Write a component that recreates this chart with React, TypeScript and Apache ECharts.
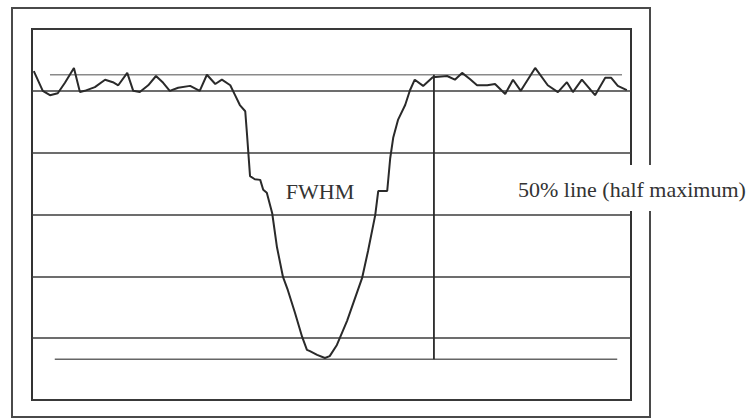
import React, { useEffect, useRef } from "react";
import * as echarts from "echarts";

// Position along the profile (0–100) and signal level (grid units, 0–6)
const positions = [
  0.3, 1.8, 3.0, 4.3, 5.5, 7.0, 8.0, 8.8, 10.5, 12.2, 13.5, 14.4, 15.9, 16.9, 18.0, 19.4,
  20.7, 21.9, 23.0, 24.4, 26.4, 28.0, 29.2, 30.6, 31.7, 33.1, 33.9, 34.7, 35.6, 35.9, 36.4,
  37.2, 38.1, 38.6, 39.2, 40.1, 40.9, 41.9, 42.7, 43.9, 45.1, 45.9, 46.4, 47.6, 48.9, 49.7,
  50.9, 52.6, 55.1, 56.1, 57.3, 57.8, 59.3, 59.8, 60.3, 61.1, 62.3, 63.1, 63.9, 65.3, 66.9,
  69.3, 70.6, 71.8, 73.1, 74.3, 76.0, 77.3, 79.0, 80.3, 81.6, 84.0, 86.1, 87.8, 89.3, 90.3,
  91.8, 94.0, 95.7, 96.7, 97.8, 99.3,
];
const signal = [
  5.32, 5.0, 4.93, 4.96, 5.13, 5.37, 4.98, 5.0, 5.06, 5.18, 5.14, 5.09, 5.29, 5.0, 4.98, 5.09,
  5.24, 5.13, 5.0, 5.05, 5.08, 5.0, 5.26, 5.11, 5.18, 5.09, 4.93, 4.77, 4.67, 4.29, 3.62,
  3.57, 3.56, 3.4, 3.35, 3.02, 2.47, 1.99, 1.78, 1.41, 1.02, 0.81, 0.79, 0.73, 0.68, 0.71,
  0.89, 1.28, 1.97, 2.41, 2.99, 3.38, 3.38, 3.91, 4.24, 4.53, 4.77, 5.01, 5.18, 5.08, 5.22,
  5.24, 5.18, 5.29, 5.19, 5.09, 5.09, 5.11, 4.95, 5.18, 5.0, 5.37, 5.09, 4.98, 5.14, 4.98,
  5.18, 4.93, 5.21, 5.21, 5.08, 5.01,
];

// Reference levels
const maxLevel = 5.26;
const minLevel = 0.66;
const maxLineX = [3.0, 98.5];
const minLineX = [3.8, 97.7];
const markerX = 67.1;

const fwhmLabel = "FWHM";
const halfMaxLabel = "50% line (half maximum)";

export default function App() {
  const ref = useRef<HTMLDivElement>(null);

  useEffect(() => {
    if (!ref.current) return;
    const chart = echarts.init(ref.current, null, { renderer: "svg" });
    const curve = positions.map((x, i) => [x, signal[i]]);
    chart.setOption({
      animation: false,
      backgroundColor: "#ffffff",
      grid: {
        left: 32,
        top: 29,
        right: 124,
        bottom: 19,
        show: true,
        borderColor: "#333",
        borderWidth: 2,
        backgroundColor: "transparent",
      },
      xAxis: {
        type: "value",
        min: 0,
        max: 100,
        axisLine: { show: false },
        axisTick: { show: false },
        axisLabel: { show: false },
        splitLine: { show: false },
      },
      yAxis: {
        type: "value",
        min: 0,
        max: 6,
        interval: 1,
        axisLine: { show: false },
        axisTick: { show: false },
        axisLabel: { show: false },
        splitLine: { show: true, lineStyle: { color: "#3c3c3c", width: 1.7 } },
      },
      series: [
        {
          type: "line",
          data: [
            [maxLineX[0], maxLevel],
            [maxLineX[1], maxLevel],
          ],
          showSymbol: false,
          lineStyle: { color: "#8a8a8a", width: 1.3 },
          z: 3,
        },
        {
          type: "line",
          data: [
            [minLineX[0], minLevel],
            [minLineX[1], minLevel],
          ],
          showSymbol: false,
          lineStyle: { color: "#666", width: 1.5 },
          z: 3,
        },
        {
          type: "line",
          data: [
            [markerX, maxLevel],
            [markerX, minLevel],
          ],
          showSymbol: false,
          lineStyle: { color: "#2a2a2a", width: 1.8 },
          z: 3,
        },
        {
          type: "line",
          data: curve,
          showSymbol: false,
          lineStyle: { color: "#2a2a2a", width: 2 },
          z: 4,
        },
      ],
      graphic: [
        {
          type: "rect",
          z: 100,
          shape: { x: 12, y: 8, width: 638, height: 409 },
          style: { fill: "none", stroke: "#4a4a4a", lineWidth: 2 },
        },
        {
          type: "rect",
          z: 101,
          shape: { x: 512, y: 165, width: 243, height: 46 },
          style: { fill: "#ffffff" },
        },
        {
          type: "text",
          z: 102,
          x: 320,
          y: 191,
          style: {
            text: fwhmLabel,
            font: '22px "Liberation Serif"',
            fill: "#333",
            align: "center",
            verticalAlign: "middle",
          },
        },
        {
          type: "text",
          z: 102,
          x: 518,
          y: 189,
          style: {
            text: halfMaxLabel,
            font: '22px "Liberation Serif"',
            fill: "#333",
            align: "left",
            verticalAlign: "middle",
          },
        },
      ],
    });
    return () => chart.dispose();
  }, []);

  return (
    <div
      ref={ref}
      style={{ position: "absolute", left: 0, top: 0, width: 755, height: 419 }}
    />
  );
}
